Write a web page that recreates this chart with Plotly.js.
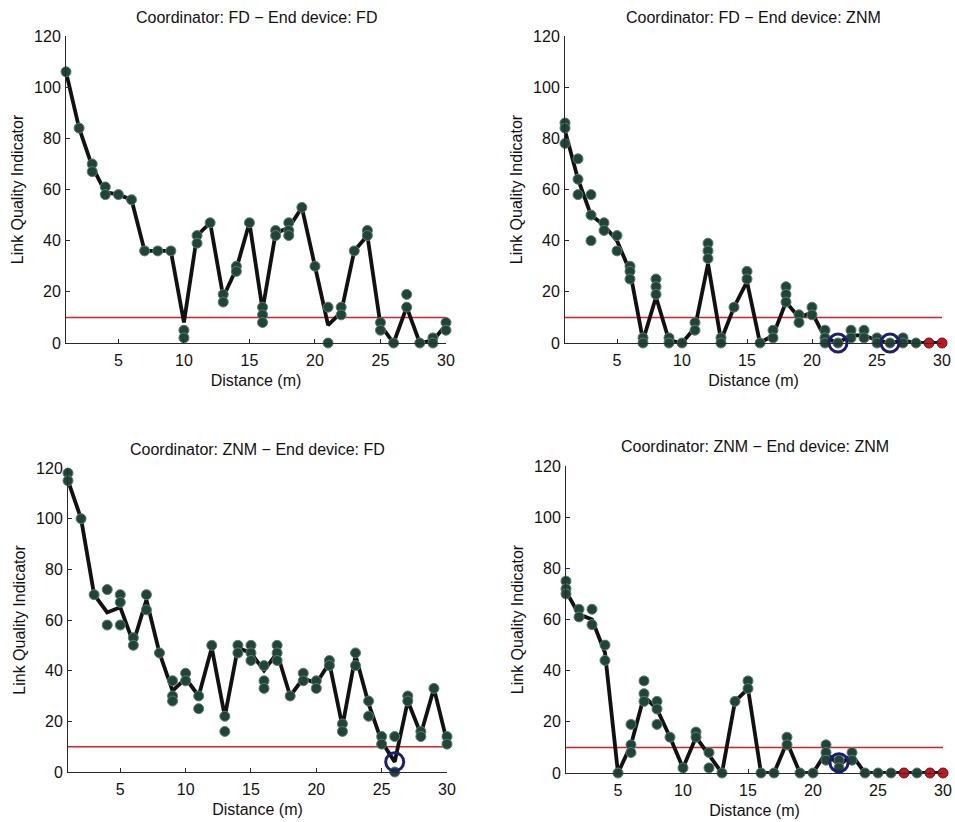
<!DOCTYPE html>
<html>
<head>
<meta charset="utf-8">
<script src="https://cdn.plot.ly/plotly-3.0.1.min.js"></script>
<style>
  html, body { margin: 0; padding: 0; background: #ffffff; }
  #chart { width: 955px; height: 822px; }
</style>
</head>
<body>
<div id="chart"></div>
<script>
// ---------------- DATA ----------------
const distance = [1,2,3,4,5,6,7,8,9,10,11,12,13,14,15,16,17,18,19,20,21,22,23,24,25,26,27,28,29,30];
const thresholdLQI = 10;
const xTicks = [5, 10, 15, 20, 25, 30];
const yTicks = [0, 20, 40, 60, 80, 100, 120];

const panelTitles = [
  "Coordinator: FD − End device: FD",
  "Coordinator: FD − End device: ZNM",
  "Coordinator: ZNM − End device: FD",
  "Coordinator: ZNM − End device: ZNM"
];

// Coordinator FD - End device FD : individual measurements per distance
const fdfdSamples = [[106],[84],[70,67],[61,58],[58],[56],[36],[36],[36],[5,2],
  [42,39],[47],[19,16],[30,28],[47],[14,11,8],[44,42],[47,44,42],[53],[30],
  [14,0],[14,11],[36],[44,42],[8,5],[0],[19,14],[0],[2,0],[8,5]];
const fdfdMean = [106,84,69,59,58,56,36,36,36,8,42,47,18,29,47,13,43,45,53,30,7,12,36,42,7,0,14,0,1,7];
const fdfdLostX = [];
const fdfdCircleX = [];
const fdfdCircleY = [];

// Coordinator FD - End device ZNM
const fdznmSamples = [[86,84,78],[72,64,58],[58,50,40],[47,44],[42,36],[30,28,25],[2,0],[25,22,19],[2,0],[0],
  [8,5],[39,36,33],[2,0],[14],[28,25],[0],[5,2],[22,19,16],[11,8],[14,11],
  [5,2,0],[0],[5,2],[5,2],[2,0],[0],[2,0],[0],[],[]];
const fdznmMean = [83,64,50,46,40,28,1,18,1,0,6,31,1,14,24,0,3,16,10,12,2,0,3,3,1,0,1,0,0,0];
const fdznmLostX = [29,30];
const fdznmCircleX = [22,26];
const fdznmCircleY = [0,0];

// Coordinator ZNM - End device FD
const znmfdSamples = [[118,115],[100],[70],[72,58],[70,67,58],[53,50],[70,64],[47],[36,30,28],[39,36],
  [30,25],[50],[22,16],[50,47],[50,47,44],[42,36,33],[50,47,44],[30],[39,36],[36,33],
  [44,42],[19,16],[47,42],[28,22],[14,11],[14,0],[30,28],[16,14],[33],[14,11]];
const znmfdMean = [115,100,70,63,65,51,68,47,32,37,30,49,22,49,47,40,47,30,37,35,43,18,46,27,12,4,28,15,33,12];
const znmfdLostX = [];
const znmfdCircleX = [26];
const znmfdCircleY = [4];

// Coordinator ZNM - End device ZNM
const znmznmSamples = [[75,72,70],[64,61],[64,58],[50,44],[0],[19,11,8],[36,31,28],[28,25,19],[14],[2],
  [16,14],[8,2],[0],[28],[36,33],[0],[0],[14,11],[0],[0],
  [11,8,5],[5,2],[8,5],[0],[0],[0],[],[0],[],[]];
const znmznmMean = [71,62,60,47,0,11,30,25,14,2,14,7,0,28,33,0,0,12,0,0,8,3,7,0,0,0,0,0,0,0];
const znmznmLostX = [27,29,30];
const znmznmCircleX = [22];
const znmznmCircleY = [4];

// ---------------- BUILD ----------------
const FONT = "Liberation Sans, Arial, Helvetica, sans-serif";
const W = 955, H = 822;

// subplot frames in pixels: [left, right, top, bottom]
const frames = [
  [66, 446, 36, 343],
  [565, 942, 36, 343],
  [68, 447, 468, 772],
  [566, 943, 466, 773]
];

const panels = [
  [fdfdSamples, fdfdMean, fdfdLostX, fdfdCircleX, fdfdCircleY],
  [fdznmSamples, fdznmMean, fdznmLostX, fdznmCircleX, fdznmCircleY],
  [znmfdSamples, znmfdMean, znmfdLostX, znmfdCircleX, znmfdCircleY],
  [znmznmSamples, znmznmMean, znmznmLostX, znmznmCircleX, znmznmCircleY]
];

const traces = [];
const layout = {
  width: W, height: H,
  margin: {l: 0, r: 0, t: 0, b: 0},
  paper_bgcolor: "#ffffff",
  plot_bgcolor: "#ffffff",
  showlegend: false,
  hovermode: false,
  font: {family: FONT, size: 16, color: "#111111"},
  annotations: []
};

panels.forEach((p, i) => {
  const [samples, mean, lostX, circX, circY] = p;
  const n = i + 1;
  const xa = n === 1 ? "x" : "x" + n;
  const ya = n === 1 ? "y" : "y" + n;
  const sx = [], sy = [];
  samples.forEach((vals, k) => vals.forEach(v => { sx.push(distance[k]); sy.push(v); }));

  traces.push({
    x: [distance[0], distance[distance.length - 1]], y: [thresholdLQI, thresholdLQI],
    xaxis: xa, yaxis: ya, mode: "lines", type: "scatter",
    line: {color: "#d42222", width: 1.5}
  });
  traces.push({
    x: distance, y: mean, xaxis: xa, yaxis: ya, mode: "lines", type: "scatter",
    line: {color: "#111111", width: 3.8}
  });
  traces.push({
    x: sx, y: sy, xaxis: xa, yaxis: ya, mode: "markers", type: "scatter", cliponaxis: false,
    marker: {size: 10, color: "#1f4538", line: {color: "#5f7b6e", width: 1}}
  });
  if (lostX.length) {
    traces.push({
      x: lostX, y: lostX.map(() => 0), xaxis: xa, yaxis: ya, mode: "markers", type: "scatter", cliponaxis: false,
      marker: {size: 10, color: "#c8141e", line: {color: "#5a1a1a", width: 1}}
    });
  }
  if (circX.length) {
    traces.push({
      x: circX, y: circY, xaxis: xa, yaxis: ya, mode: "markers", type: "scatter", cliponaxis: false,
      marker: {size: 18, symbol: "circle-open", color: "#1b1f6e", line: {color: "#1b1f6e", width: 3}}
    });
  }

  const f = frames[i];
  const axCommon = {
    showline: true, linecolor: "#2a2a2a", linewidth: 1,
    ticks: "inside", ticklen: 4, tickwidth: 1, tickcolor: "#2a2a2a",
    showgrid: false, zeroline: false, fixedrange: true,
    tickfont: {family: FONT, size: 16, color: "#111111"}
  };
  layout["xaxis" + (n === 1 ? "" : n)] = Object.assign({}, axCommon, {
    domain: [f[0] / W, f[1] / W], anchor: ya,
    range: [distance[0], distance[distance.length - 1]],
    tickmode: "array", tickvals: xTicks, ticklabelstandoff: 3,
    title: {text: "Distance (m)", font: {family: FONT, size: 16, color: "#111111"}, standoff: 6}
  });
  layout["yaxis" + (n === 1 ? "" : n)] = Object.assign({}, axCommon, {
    domain: [1 - f[3] / H, 1 - f[2] / H], anchor: xa,
    range: [0, 120],
    tickmode: "array", tickvals: yTicks, ticklabelstandoff: 1,
    title: {text: "Link Quality Indicator", font: {family: FONT, size: 16, color: "#111111"}, standoff: 6}
  });
  layout.annotations.push({
    text: panelTitles[i], xref: "paper", yref: "paper",
    x: (f[0] + f[1]) / 2 / W, y: 1 - (f[2] - 19) / H,
    xanchor: "center", yanchor: "middle", showarrow: false,
    font: {family: FONT, size: 16, color: "#111111"}
  });
});

Plotly.newPlot("chart", traces, layout, {displayModeBar: false, staticPlot: true});
</script>
</body>
</html>
